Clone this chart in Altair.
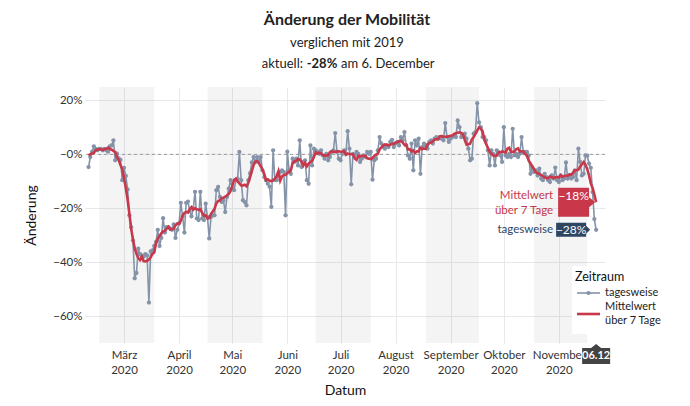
import altair as alt
import pandas as pd

FONT = "Lato"

# ---- data (percent change vs. 2019), daily from 2020-02-24 ----
feb = [-4.7, -1, 1, 3, 2, 1.5]
mar = [2, 2, 1.5, 2, 1.5, 1, 3, 3.3, 5.2, -2.2, 0.3, -1.5, -2, -9.6, -5, -8, -13, -22.6, -27, -32,
       -46, -44, -35, -37, -37.5, -38, -37, -37.5, -55, -36, -35.6]
apr = [-34, -32.5, -28, -34, -31, -23.7, -29, -27, -27, -27.5, -28, -26, -31, -28, -25.6, -18, -23, -29,
       -18, -17.5, -21, -23, -20, -13.9, -23.8, -24.4, -13.9, -23.8, -24.4, -18.3]
may = [-23.2, -31.2, -23.2, -22.6, -22.6, -13.3, -12.1, -15.8, -17.7, -17, -21.4, -15.8, -12.7, -9.6,
       -12.7, -13.3, -9.6, -9, 0.9, -9.6, -17, -17.7, -18.9, -9.6, -7, -3, -1, -2.8, -1, -2.8, -1]
jun = [-5.9, -8.4, -9.6, -10.9, -12, -19.5, 1.5, -9.6, -9.6, -7.2, -6.5, -5.9, -6.5, -22.6, 1, -5.9,
       -7.2, -1.6, -2.8, -1.6, -4.1, 5.2, -4.7, -2.8, -2.2, -9.6, -10.9, 3.3, -4.1, 2.1]
jul = [1.5, 0.9, 0.2, 1.5, -0.4, -1.6, 0.2, -2.2, -1, 0.9, 1.5, 7.9, 0.9, -1.6, -2.2, 0.2, 1.5, 0.2,
       8.6, 2.1, -11.1, 0.2, -0.4, 0.9, 0.2, -2.8, -1.6, -0.4, -1, 0.9, 0.2]
aug = [0.9, -9.4, -2.2, -1.6, 1.5, 6.4, 4, 2.7, 2.1, 3.3, 2.7, 4.6, 5.4, 2.7, 4, 4.6, 3.3, 6.4, 5.2,
       8.3, 3.3, -0.4, -1.6, 4, -5.9, 5.2, 3.3, 5.8, -7.2, 2.7, 4]
sep = [3.3, 2.1, 4.6, 5.2, 4, 5.8, 6.4, 5.8, 6.4, 5.8, 5.2, 11.6, 6.4, 4.6, 5.8, 6.4, 7, 6.4, 12.6,
       10.1, 6.4, 7, 7.7, 5.8, 2.1, -2.2, -1.6, 7.7, 8.3, 19]
okt = [11.9, 10.1, 6.4, 6.4, 5.2, 1.5, -4.1, 1.5, 0.2, -4.1, 1.5, 0.9, -0.4, -2.8, 10.1, -0.4, -1,
       0.2, -1, 9.5, -0.4, 0.2, -1, 0.2, 6.4, 0.5, 0.9, 0.9, -0.4, -7.2, -4.7]
nov = [-6.5, -5.9, -7.8, -5.3, -9, -9.6, -7.2, -8.4, -9.6, -10.3, -7.8, -9, -4.9, -9.6, -10.3, -7.8,
       -9.6, -9, -3, -9, -7.8, -9, -8.4, -5.9, -9.6, 2.1, -2.8, -7.8, -7.2, -0.4]
dez = [-0.5, -3.4, -5, -14, -24, -28]

daily = feb + mar + apr + may + jun + jul + aug + sep + okt + nov + dez
start = pd.Timestamp("2020-02-24")
dates = [(start + pd.Timedelta(days=k)).strftime("%Y-%m-%dT00:00:00") for k in range(len(daily))]
df = pd.DataFrame({"date": dates, "value": daily})
last = start + pd.Timedelta(days=len(daily) - 1)

band_start = ["2020-03-01", "2020-05-01", "2020-07-01", "2020-09-01", "2020-11-01"]
band_end = ["2020-04-01", "2020-06-01", "2020-08-01", "2020-10-01", "2020-12-01"]
bands = pd.DataFrame({"start": [s + "T00:00:00" for s in band_start],
                      "end": [s + "T00:00:00" for s in band_end]})

tick_months = [3, 4, 5, 6, 7, 8, 9, 10, 11]
y_ticks = [20, 0, -20, -40, -60]
month_names = ["Januar", "Februar", "März", "April", "Mai", "Juni", "Juli", "August",
               "September", "Oktober", "November", "Dezember"]

# ---- style ----
W, H = 520, 256
C_DAILY = "#8593a8"
C_RED = "#c8374a"
C_DARK = "#2f4663"
C_GRID = "#e6e8ec"

x_scale = alt.Scale(domain=[alt.DateTime(year=2020, month=2, date=22),
                            alt.DateTime(year=2020, month=12, date=11)], nice=False)
y_scale = alt.Scale(domain=[-70, 25], nice=False)

names_js = "[" + ",".join("'" + m + "'" for m in month_names) + "]"
x_axis = alt.Axis(
    values=[alt.DateTime(year=2020, month=m, date=15) for m in tick_months],
    labelExpr="[" + names_js + "[month(datum.value)], '' + year(datum.value)]",
    title="Datum", grid=True, gridColor=C_GRID, domain=False, ticks=False,
    labelPadding=6, labelLineHeight=15, labelFontSize=11.5, labelOverlap=False,
    labelFlush=False, titlePadding=8,
)
y_axis = alt.Axis(
    values=y_ticks,
    labelExpr="datum.value == 0 ? '−0%' : (datum.value < 0 ? '−' + abs(datum.value) + '%' : datum.value + '%')",
    title="Änderung", grid=True, gridColor=C_GRID, domain=False, ticks=False,
    labelPadding=3, labelFontSize=11.5, titlePadding=14,
)

X = alt.X("date:T", scale=x_scale, axis=x_axis)
last_expr = f"time(datum.date) == time(datetime({last.year}, {last.month - 1}, {last.day}))"
lab_expr = "(datum.{f} < 0 ? '−' : '') + format(abs(datum.{f}), '.0f') + '%'"

base = alt.Chart(df)

band_layer = alt.Chart(bands).mark_rect(color="#000000", opacity=0.045).encode(
    x=alt.X("start:T", scale=x_scale, axis=x_axis), x2="end:T",
    y=alt.value(0), y2=alt.value(H))

zero_layer = alt.Chart(pd.DataFrame({"v": [0]})).mark_rule(
    color="#9a9a9a", strokeDash=[3, 3], strokeWidth=1).encode(
    y=alt.Y("v:Q", scale=y_scale, axis=y_axis))

YV = alt.Y("value:Q", scale=y_scale, axis=y_axis)
daily_line = base.mark_line(color=C_DAILY, strokeWidth=1.6).encode(x=X, y=YV)
daily_pts = base.mark_circle(color=C_DAILY, size=18, opacity=1).encode(x=X, y=YV)

mean_base = base.transform_window(mean="mean(value)", frame=[-3, 3], sort=[alt.SortField("date")])
YM = alt.Y("mean:Q", scale=y_scale, axis=y_axis)
mean_line = mean_base.mark_line(color=C_RED, strokeWidth=2.6).encode(x=X, y=YM)

# ---- hover-style labels at the last day ----
mean_last = mean_base.transform_filter(last_expr).transform_calculate(lab=lab_expr.format(f="mean"))
RED_BOX = "M-1,0 L-7,-5 L-7,-14.5 L-38,-14.5 L-38,14.5 L-7,14.5 L-7,5 Z"
red_box = mean_last.mark_point(shape=RED_BOX, size=4, filled=True, color=C_RED, opacity=1,
                               strokeWidth=0).encode(x=X, y=YM)
red_val = mean_last.mark_text(color="white", fontSize=12, align="center", baseline="middle",
                              dx=-22.5, dy=-6).encode(x=X, y=YM, text="lab:N")
red_n1 = mean_last.mark_text(color=C_RED, fontSize=11.5, align="right", baseline="middle",
                             dx=-43, dy=-6).encode(x=X, y=YM, text=alt.value("Mittelwert"))
red_n2 = mean_last.mark_text(color=C_RED, fontSize=11.5, align="right", baseline="middle",
                             dx=-43, dy=8.5).encode(x=X, y=YM, text=alt.value("über 7 Tage"))

daily_last = base.transform_filter(last_expr).transform_calculate(
    lab=lab_expr.format(f="value"), dlab="timeFormat(datum.date, '%d.%m')")
DARK_BOX = "M-6,0 L-10,-4 L-10,-7 L-40,-7 L-40,7 L-10,7 L-10,4 Z"
dark_box = daily_last.mark_point(shape=DARK_BOX, size=4, filled=True, color=C_DARK, opacity=1,
                                 strokeWidth=0).encode(x=X, y=YV)
dark_val = daily_last.mark_text(color="white", fontSize=12, align="center", baseline="middle",
                                dx=-25, dy=0).encode(x=X, y=YV, text="lab:N")
dark_n = daily_last.mark_text(color=C_DARK, fontSize=11.5, align="right", baseline="middle",
                              dx=-43, dy=0).encode(x=X, y=YV, text=alt.value("tagesweise"))

SPIKE = "M0,1 L5,5 L14,5 L14,21 L-14,21 L-14,5 L-5,5 Z"
spike_box = daily_last.mark_point(shape=SPIKE, size=4, filled=True, color="#444444", opacity=1,
                                  strokeWidth=0).encode(x=X, y=alt.value(H))
spike_txt = daily_last.mark_text(color="white", fontSize=11, fontWeight="bold", align="center",
                                 baseline="middle").encode(x=X, y=alt.value(H + 13), text="dlab:N")

# ---- legend ----
one = alt.Chart(pd.DataFrame({"k": [0]}))
leg_bg = one.mark_rect(color="white").encode(x=alt.value(487), x2=alt.value(606),
                                             y=alt.value(179), y2=alt.value(247))
leg_title = one.mark_text(align="left", baseline="middle", fontSize=12.5, color="#111").encode(
    x=alt.value(490), y=alt.value(190), text=alt.value("Zeitraum"))
leg_l1 = one.mark_rule(color=C_DAILY, strokeWidth=1.6).encode(
    x=alt.value(492), x2=alt.value(515), y=alt.value(206))
leg_p1 = one.mark_circle(color=C_DAILY, size=18, opacity=1).encode(x=alt.value(503.5), y=alt.value(206))
leg_t1 = one.mark_text(align="left", baseline="middle", fontSize=11, color="#222").encode(
    x=alt.value(520), y=alt.value(206), text=alt.value("tagesweise"))
leg_l2 = one.mark_rule(color=C_RED, strokeWidth=2.6).encode(
    x=alt.value(492), x2=alt.value(515), y=alt.value(227))
leg_t2 = one.mark_text(align="left", baseline="middle", fontSize=11, color="#222").encode(
    x=alt.value(520), y=alt.value(220), text=alt.value("Mittelwert"))
leg_t3 = one.mark_text(align="left", baseline="middle", fontSize=11, color="#222").encode(
    x=alt.value(520), y=alt.value(234), text=alt.value("über 7 Tage"))

# ---- titles ----
t1 = one.mark_text(align="center", baseline="middle", fontSize=16, fontWeight="bold", color="#222").encode(
    x=alt.value(262), y=alt.value(-67), text=alt.value("Änderung der Mobilität"))
t2 = one.mark_text(align="center", baseline="middle", fontSize=13, color="#222").encode(
    x=alt.value(262), y=alt.value(-44), text=alt.value("verglichen mit 2019"))
cur = f"{daily[-1]:.0f}%"
t3a = one.mark_text(align="right", baseline="middle", fontSize=13, color="#222").encode(
    x=alt.value(218), y=alt.value(-23), text=alt.value("aktuell:"))
t3b = one.mark_text(align="center", baseline="middle", fontSize=13, fontWeight="bold", color="#222").encode(
    x=alt.value(237), y=alt.value(-23), text=alt.value(cur))
t3c = one.mark_text(align="left", baseline="middle", fontSize=13, color="#222").encode(
    x=alt.value(256), y=alt.value(-23),
    text=alt.value(f"am {last.day}. December"))

chart = alt.layer(
    band_layer, zero_layer, daily_line, daily_pts, mean_line,
    red_box, red_val, red_n1, red_n2, dark_box, dark_val, dark_n, spike_box, spike_txt,
    leg_bg, leg_title, leg_l1, leg_p1, leg_t1, leg_l2, leg_t2, leg_t3,
    t1, t2, t3a, t3b, t3c,
).properties(
    width=W, height=H,
    autosize=alt.AutoSizeParams(type="none"),
    padding={"left": 85, "top": 87, "right": 85, "bottom": 63},
    background="white",
).configure_view(stroke=None).configure_axis(
    labelFont=FONT, titleFont=FONT, labelColor="#333", titleColor="#111",
    titleFontSize=14, titleFontWeight="normal",
).configure_text(font=FONT)

chart.save("out.html", embed_options={"renderer": "svg", "actions": False})
